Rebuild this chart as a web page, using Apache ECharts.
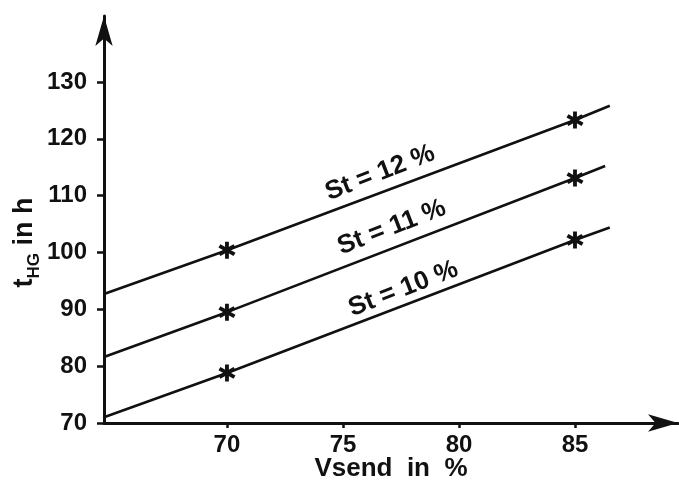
<!DOCTYPE html>
<html>
<head>
<meta charset="utf-8">
<title>Storage time vs. Vsend</title>
<script src="https://cdn.jsdelivr.net/npm/echarts@6/dist/echarts.min.js"></script>
<style>
  html, body { margin: 0; padding: 0; background: #ffffff; }
  #chart { width: 679px; height: 485px; }
</style>
</head>
<body>
<div id="chart"></div>
<script>
// Vsend (%) tick positions and t_HG (h) tick positions
const xTicks = [70, 75, 80, 85];
const yTicks = [70, 80, 90, 100, 110, 120, 130];

// Each line: [Vsend %, t_HG h]; the first and last points are the ends of the drawn line,
// the middle two are the measured points (marked with a star).
const st12 = [[64.7, 92.7], [70, 100.4], [85, 123.3], [86.5, 125.8]];
const st11 = [[64.7, 81.6], [70, 89.5], [85, 113.1], [86.3, 115.2]];
const st10 = [[64.7, 71.0], [70, 78.8], [85, 102.2], [86.5, 104.4]];

const lineLabels = ['St = 12 %', 'St = 11 %', 'St = 10 %'];
// anchor of each curve label in data coordinates
const labelAnchors = [[76.6, 114.0], [77.1, 104.4], [77.6, 93.6]];

const FONT = '"Liberation Sans", Arial, Helvetica, sans-serif';
const INK = '#111111';

// six-armed asterisk used as the point marker
const STAR = 'path://M-2.2,-10L2.2,-10L2.2,10L-2.2,10Z' +
  'M7.56,-6.91L9.76,-3.09L-7.56,6.91L-9.76,3.09Z' +
  'M-9.76,-3.09L-7.56,-6.91L9.76,3.09L7.56,6.91Z';

function toData(points) {
  const last = points.length - 1;
  return points.map((p, i) => ({
    value: p,
    symbol: (i === 0 || i === last) ? 'none' : STAR
  }));
}

function makeSeries(points, label, anchor) {
  return {
    type: 'line',
    data: toData(points),
    symbolSize: 17,
    showAllSymbol: true,
    lineStyle: { color: INK, width: 2.6 },
    itemStyle: { color: INK },
    silent: true,
    markPoint: {
      symbol: 'circle',
      symbolSize: 0,
      silent: true,
      data: [{
        coord: anchor,
        label: {
          show: true,
          formatter: label,
          rotate: 21,
          color: INK,
          fontFamily: FONT,
          fontSize: 26,
          fontWeight: 'bold',
          position: 'inside'
        }
      }]
    }
  };
}

const chart = echarts.init(document.getElementById('chart'), null, { renderer: 'canvas' });

chart.setOption({
  backgroundColor: '#ffffff',
  animation: false,
  grid: {
    left: 104, right: 1, top: 16, bottom: 62,
    containLabel: false,
    outerBoundsMode: 'none'
  },
  xAxis: {
    type: 'value',
    min: 64.7,
    max: 89.44,
    name: 'Vsend  in  %',
    nameLocation: 'middle',
    nameGap: 33,
    nameMoveOverlap: false,
    nameTextStyle: { color: INK, fontFamily: FONT, fontSize: 26, fontWeight: 'bold' },
    axisLine: {
      show: true,
      symbol: ['none', 'arrow'],
      symbolSize: [13, 30],
      lineStyle: { color: INK, width: 3 }
    },
    axisTick: {
      show: true,
      customValues: xTicks,
      length: 5,
      inside: false,
      lineStyle: { color: INK, width: 2.5 }
    },
    axisLabel: {
      customValues: xTicks,
      margin: 10,
      color: INK,
      fontFamily: FONT,
      fontSize: 24,
      fontWeight: 'bold'
    },
    splitLine: { show: false }
  },
  yAxis: {
    type: 'value',
    min: 70,
    max: 141.6,
    name: '{t|t}{s|HG}{r| in h}',
    nameLocation: 'middle',
    nameRotate: 90,
    nameGap: 66,
    nameMoveOverlap: false,
    nameTextStyle: {
      color: INK,
      fontFamily: FONT,
      fontWeight: 'bold',
      padding: [0, 46, 0, 0],
      rich: {
        t: { fontSize: 27, fontFamily: FONT, fontWeight: 'bold', color: INK },
        s: { fontSize: 17, fontFamily: FONT, fontWeight: 'bold', color: INK, verticalAlign: 'bottom', padding: [0, 0, -5, 0] },
        r: { fontSize: 27, fontFamily: FONT, fontWeight: 'bold', color: INK }
      }
    },
    axisLine: {
      show: true,
      symbol: ['none', 'arrow'],
      symbolSize: [13, 30],
      lineStyle: { color: INK, width: 3 }
    },
    axisTick: {
      show: true,
      customValues: yTicks,
      length: 7,
      inside: false,
      lineStyle: { color: INK, width: 2.5 }
    },
    axisLabel: {
      customValues: yTicks,
      margin: 17,
      color: INK,
      fontFamily: FONT,
      fontSize: 24,
      fontWeight: 'bold'
    },
    splitLine: { show: false }
  },
  series: [
    makeSeries(st12, lineLabels[0], labelAnchors[0]),
    makeSeries(st11, lineLabels[1], labelAnchors[1]),
    makeSeries(st10, lineLabels[2], labelAnchors[2])
  ]
});
</script>
</body>
</html>
